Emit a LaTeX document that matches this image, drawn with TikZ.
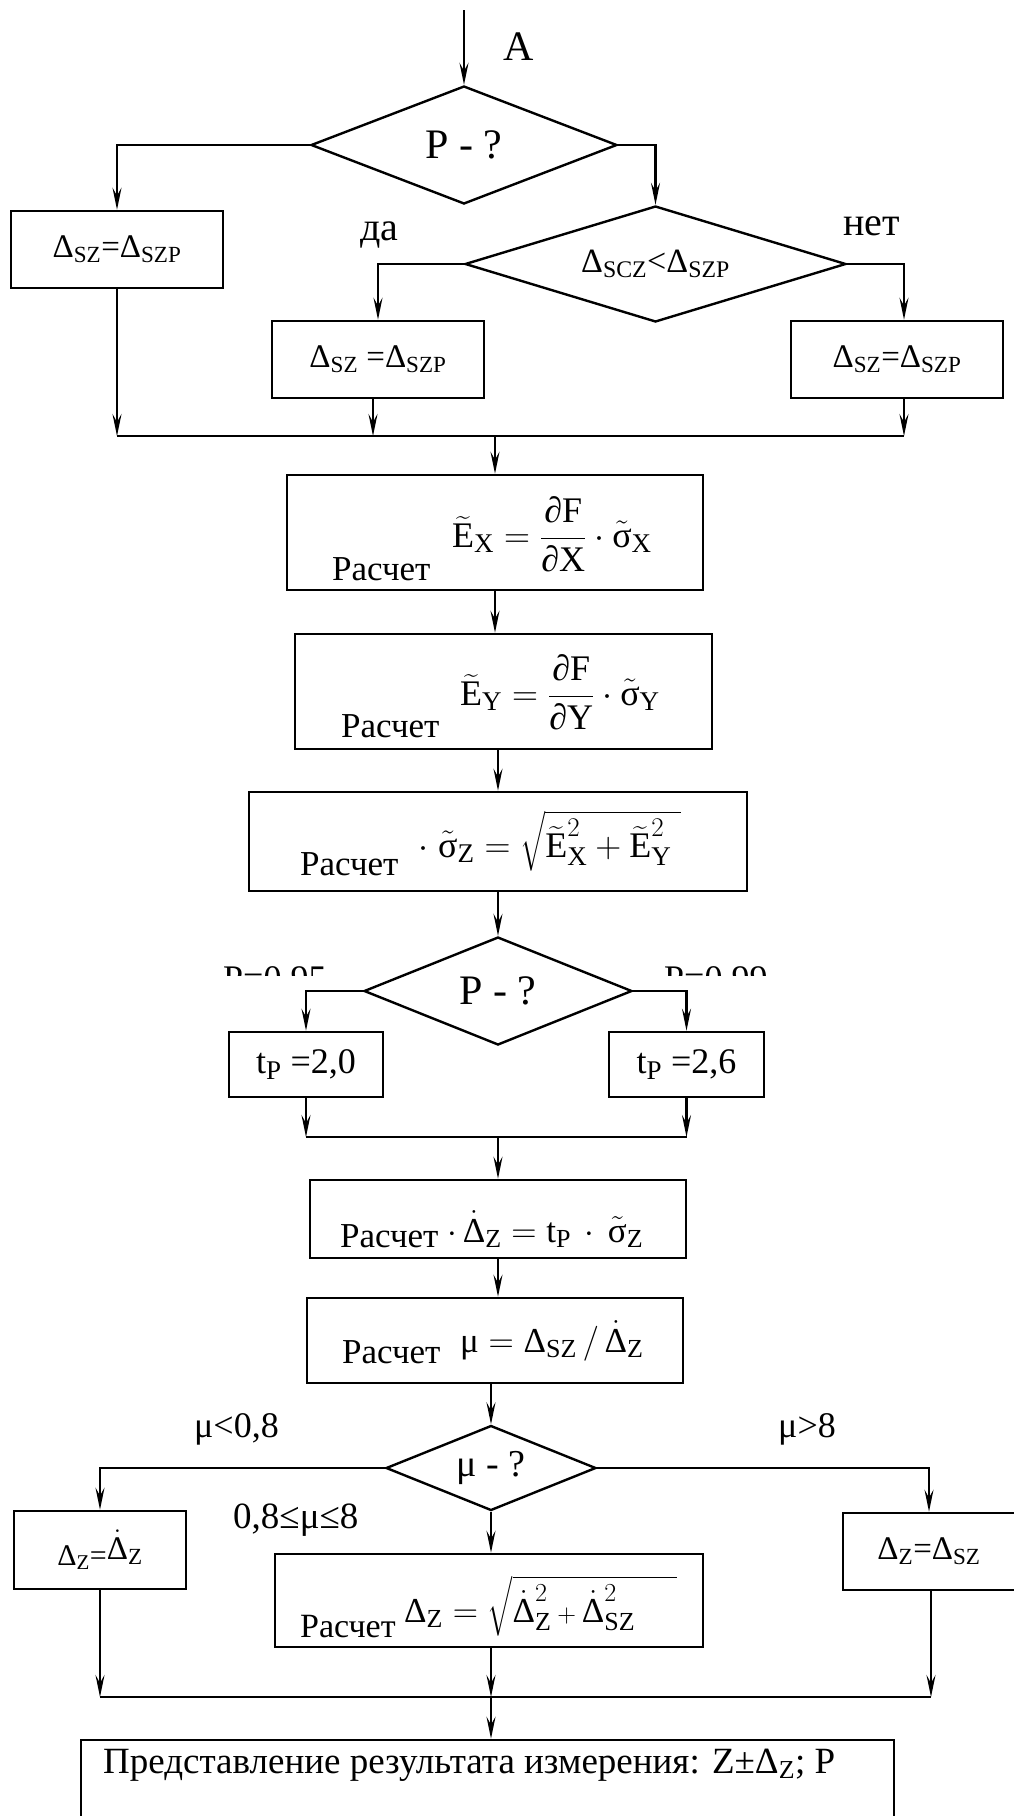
\RequirePackage{fix-cm}
\documentclass[tikz,border=0pt]{standalone}
\usepackage{amsmath}
\usepackage{fontspec}
\setmainfont{Liberation Serif}
\usetikzlibrary{shapes.geometric,arrows.meta}
\DeclareMathSizes{35}{35}{26}{19}
\DeclareMathSizes{36}{36}{27}{19}
\newcommand{\sbx}[1]{$_{\text{#1}}$}
\newcommand{\T}[1]{\text{#1}}
\newcommand{\fs}[1]{\fontsize{#1}{#1}\selectfont}
\begin{document}
\begin{tikzpicture}[x=1pt,y=-1pt,
  every node/.style={font=\fs{33}},
  box/.style={draw, line width=2.6pt, inner sep=0pt, rectangle},
  dia/.style={draw, diamond, line width=2.4pt, inner sep=0pt, aspect=2.5},
  ln/.style={line width=2.2pt},
  arr/.style={line width=2.2pt, -{Stealth[length=22pt,width=9pt,inset=8pt]}},
  lbl/.style={inner sep=0pt, font=\fs{40}},
  txt/.style={inner sep=0pt},
  frm/.style={inner sep=0pt, font=\fs{35}}]
\useasboundingbox (0,0) rectangle (1013,1816);
% ---------- nodes ----------
\node[dia, minimum width=306pt, minimum height=118pt, font=\fs{42}] (d1) at (464,145) {P - ?};
\node[box, minimum width=212pt, minimum height=77pt] (l1) at (117,249.5) {Δ\sbx{SZ}=Δ\sbx{SZP}};
\node[dia, minimum width=381pt, minimum height=116pt, font=\fs{34}] (d2) at (655.5,264) {Δ\sbx{SCZ}<Δ\sbx{SZP}};
\node[box, minimum width=212pt, minimum height=77pt] (bm) at (378,359.5) {Δ\sbx{SZ} =Δ\sbx{SZP}};
\node[box, minimum width=212pt, minimum height=77pt] (br) at (897,359.5) {Δ\sbx{SZ}=Δ\sbx{SZP}};
\node[lbl, anchor=base west, font=\fs{42}] (la) at (503,60) {A};
\node[lbl, anchor=base west] (lda) at (360,240) {да};
\node[lbl, anchor=base west] (lnet) at (843,235) {нет};

\node[box, minimum width=416pt, minimum height=115pt] (e1) at (495,532.5) {};
\node[txt, anchor=base west, font=\fs{35}] (e1a) at (332,580) {Расчет};
\node[frm, anchor=base west, font=\fs{36}] (e1b) at (452,547) {$\widetilde{\T{E}}_{\T{X}} = \dfrac{\T{∂F}}{\T{∂X}}\cdot\tilde{\T{σ}}_{\T{X}}$};

\node[box, minimum width=417pt, minimum height=115pt] (e2) at (503.5,691.5) {};
\node[txt, anchor=base west, font=\fs{35}] (e2a) at (341,737) {Расчет};
\node[frm, anchor=base west, font=\fs{36}] (e2b) at (460,705) {$\widetilde{\T{E}}_{\T{Y}} = \dfrac{\T{∂F}}{\T{∂Y}}\cdot\tilde{\T{σ}}_{\T{Y}}$};

\node[box, minimum width=498pt, minimum height=99pt] (e3) at (498,841.5) {};
\node[txt, anchor=base west, font=\fs{35}] (e3a) at (300,875) {Расчет};
\node[frm, anchor=base west, font=\fs{36}] (e3b) at (418,857) {$\cdot\;\tilde{\T{σ}}_{\T{Z}} = \sqrt{\widetilde{\T{E}}^{2}_{\T{X}} + \widetilde{\T{E}}^{2}_{\T{Y}}\;}$};

\node[dia, minimum width=268pt, minimum height=108pt, font=\fs{42}] (d3) at (498,991) {P - ?};
\begin{scope}
\clip (150,930) rectangle (800,975);
\node[lbl, anchor=base west, font=\fs{36}] (p95) at (223,990) {P=0,95};
\node[lbl, anchor=base west, font=\fs{36}] (p99) at (664,990) {P=0,99};
\end{scope}
\node[box, minimum width=154pt, minimum height=65pt, font=\fs{36}] (t1) at (306,1064.5) {t\sbx{P} =2,0};
\node[box, minimum width=155pt, minimum height=65pt, font=\fs{36}] (t2) at (686.5,1064.5) {t\sbx{P} =2,6};

\node[box, minimum width=376pt, minimum height=78pt] (b4) at (498,1219) {};
\node[txt, anchor=base west, font=\fs{35}] (b4a) at (340,1247) {Расчет};
\node[frm, anchor=base west] (b4b) at (447,1242) {$\cdot\,\dot{\T{Δ}}_{\T{Z}} = \T{t}_{\T{P}}\,\cdot\,\tilde{\T{σ}}_{\T{Z}}$};

\node[box, minimum width=376pt, minimum height=85pt] (b5) at (495,1340.5) {};
\node[txt, anchor=base west, font=\fs{35}] (b5a) at (342,1363) {Расчет};
\node[frm, anchor=base west] (b5b) at (460,1352) {$\T{μ} = \T{Δ}_{\T{SZ}}\,/\,\dot{\T{Δ}}_{\T{Z}}$};

\node[dia, minimum width=210pt, minimum height=85pt, font=\fs{38}] (d4) at (491,1468) {μ - ?};
\node[lbl, anchor=base west, font=\fs{36}] (lm1) at (194,1437) {μ<0,8};
\node[lbl, anchor=base west, font=\fs{36}] (lm2) at (778,1437) {μ>8};
\node[lbl, anchor=base west, font=\fs{37}] (lm3) at (233,1528) {0,8≤μ≤8};

\node[box, minimum width=172pt, minimum height=78pt] (ll) at (100,1550) {{\fs{30}Δ\sbx{Z}=}\raisebox{6pt}{$\dot{\T{Δ}}_{\T{Z}}$}};
\node[box, minimum width=172pt, minimum height=77pt] (rr) at (929,1551.5) {Δ\sbx{Z}=Δ\sbx{SZ}};

\node[box, minimum width=428pt, minimum height=93pt] (mm) at (489,1600.5) {};
\node[txt, anchor=base west, font=\fs{34}] (mma) at (300,1637) {Расчет};
\node[frm, anchor=base west] (mmb) at (404,1622) {$\T{Δ}_{\T{Z}} = \sqrt{\dot{\T{Δ}}^{2}_{\T{Z}}\,{\scriptstyle +}\,\dot{\T{Δ}}^{2}_{\T{SZ}}\hspace{42pt}}$};

\node[box, minimum width=813pt, minimum height=90pt] (fin) at (487.5,1785) {};
\node[txt, anchor=base west, font=\fs{37}] (fint) at (103,1773) {Представление результата измерения: Z±Δ\sbx{Z}; P};

% ---------- connectors ----------
\coordinate (start) at (464,10);
\draw[arr] (start) -- (d1.north);
\draw[arr] (d1.west) -| (l1.north);
\draw[arr] (d1.east) -| (d2.north);
\draw[arr] (d2.west) -| (bm.north);
\draw[arr] (d2.east) -| ([xshift=7pt]br.north);
\coordinate (j1) at (495,436);
\draw[arr] (l1.south) -- (l1.south |- j1);
\draw[arr] ([xshift=-5pt]bm.south) -- ([xshift=-5pt]bm.south |- j1);
\draw[arr] ([xshift=7pt]br.south) -- ([xshift=7pt]br.south |- j1);
\draw[ln] (l1.south |- j1) -- ([xshift=7pt]br.south |- j1);
\draw[arr] (j1) -- (e1.north);
\draw[arr] (e1.south) -- (e1.south |- e2.north);
\draw[arr] (e3.north |- e2.south) -- (e3.north);
\draw[arr] (e3.south) -- (d3.north);
\draw[arr] (d3.west) -| (t1.north);
\draw[arr] (d3.east) -| (t2.north);
\coordinate (j2) at (498,1137);
\draw[arr] (t1.south) -- (t1.south |- j2);
\draw[arr] (t2.south) -- (t2.south |- j2);
\draw[ln] (t1.south |- j2) -- (t2.south |- j2);
\draw[arr] (j2) -- (b4.north);
\draw[arr] (b4.south) -- (b4.south |- b5.north);
\draw[arr] (d4.north |- b5.south) -- (d4.north);
\draw[arr] (d4.west) -| (ll.north);
\draw[arr] (d4.east) -| (rr.north);
\draw[arr] (d4.south) -- (d4.south |- mm.north);
\coordinate (j3) at (491,1697);
\draw[arr] (ll.south) -- (ll.south |- j3);
\draw[arr] (j3 |- mm.south) -- (j3);
\draw[arr] ([xshift=2pt]rr.south) -- ([xshift=2pt]rr.south |- j3);
\draw[ln] (ll.south |- j3) -- ([xshift=2pt]rr.south |- j3);
\draw[arr] (j3) -- (j3 |- fin.north);
\end{tikzpicture}
\end{document}
